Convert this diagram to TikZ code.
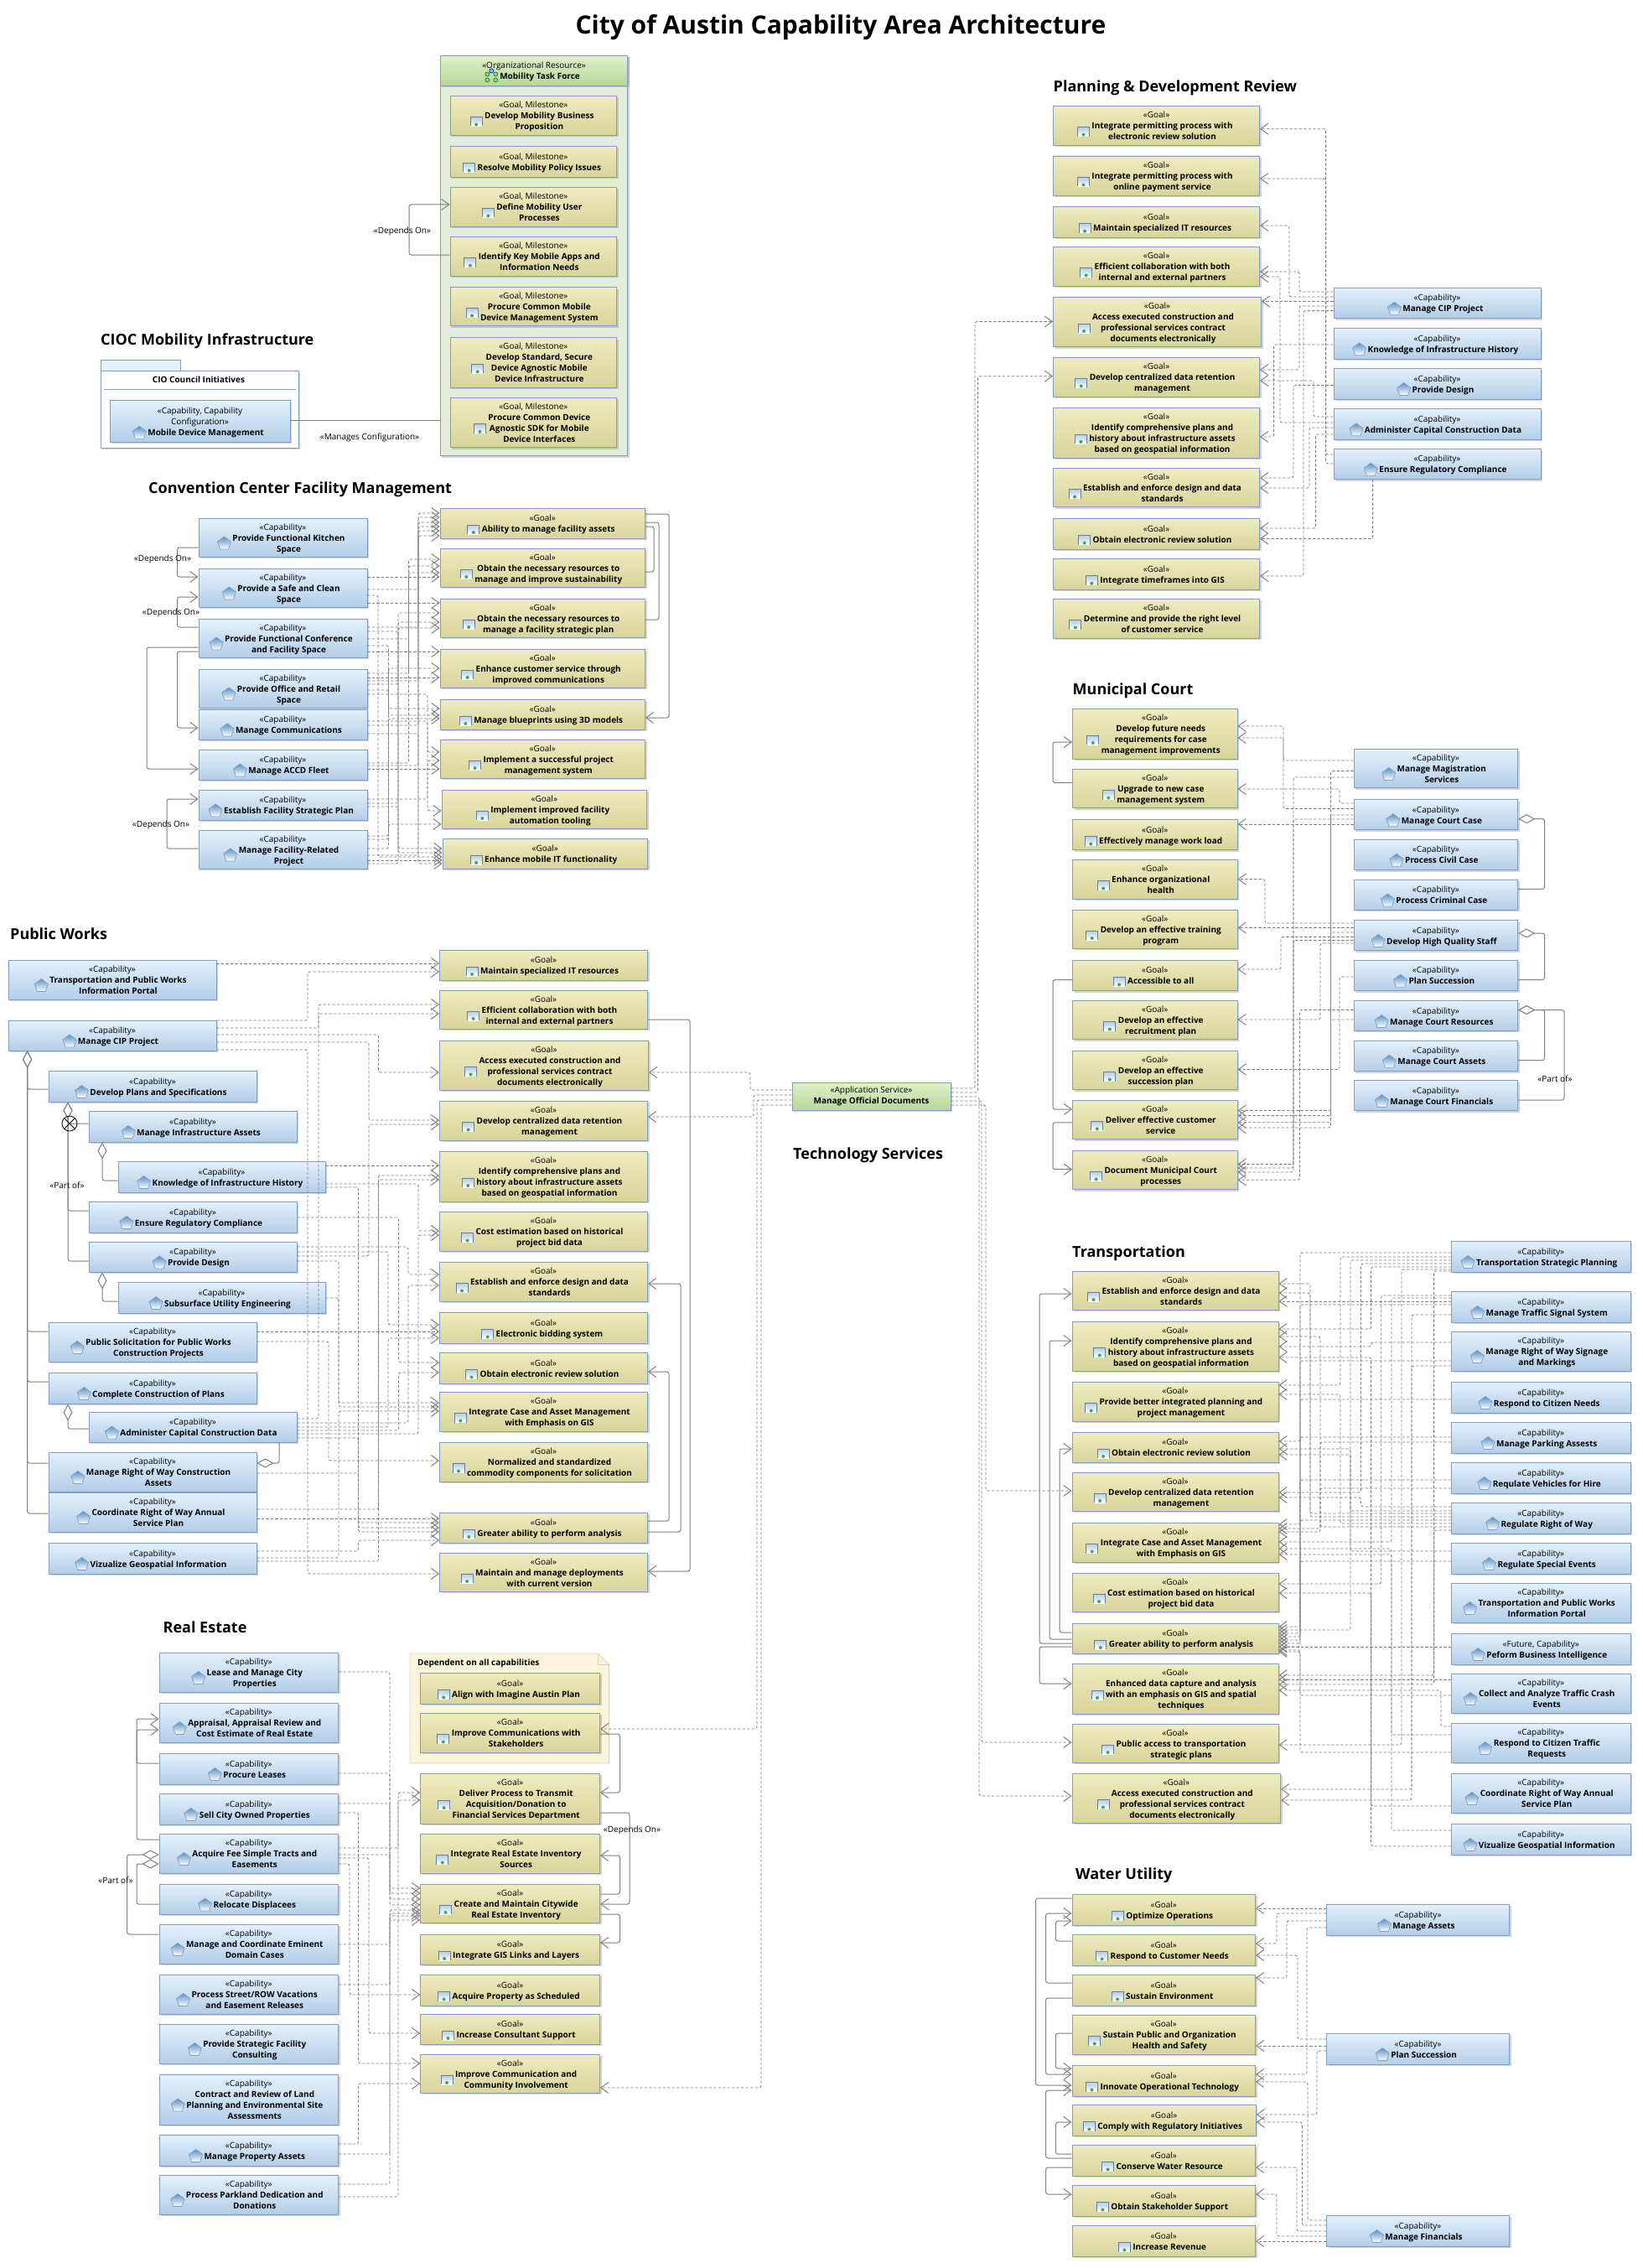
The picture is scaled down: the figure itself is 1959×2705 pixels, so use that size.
\documentclass[tikz,border=0pt]{standalone}
\usepackage{fontspec}
\setmainfont{Open Sans}
\usetikzlibrary{%
  arrows.meta,%
  shapes.geometric,%
  shadows%
}
\definecolor{capTop}{HTML}{E4F1FD}
\definecolor{capBottom}{HTML}{B2CEE8}
\definecolor{capIcon}{HTML}{5C93C4}
\definecolor{goalTop}{HTML}{EFECC0}
\definecolor{goalBottom}{HTML}{D8D49A}
\definecolor{svcTop}{HTML}{DFF0CC}
\definecolor{svcBottom}{HTML}{B6D797}
\definecolor{boxEdge}{HTML}{7F9FC6}
\definecolor{lineGray}{HTML}{808080}
\definecolor{noteFill}{HTML}{FAF5DA}
\definecolor{teamFill}{HTML}{E3EDDA}

\newcommand{\labelfont}{\fontsize{10}{13}\selectfont}
\newsavebox{\boldlines}
\newcommand{\stereoshift}{7}
% style, icon, stereotype, name, x0, y0, x1, y1, bold lines
\newcommand{\boxnode}[9]{%
  \sbox{\boldlines}{\pgfinterruptpicture\normalfont\labelfont\bfseries\begin{tabular}[t]{@{}c@{}}#9\end{tabular}\endpgfinterruptpicture}%
  \pgfmathsetmacro{\cx}{(#5+#7)/2}\pgfmathsetmacro{\cy}{(#6+#8)/2}%
  \pgfmathsetmacro{\bw}{#7-#5}\pgfmathsetmacro{\bh}{#8-#6}%
  \pgfmathsetmacro{\ix}{\cx+7-\the\wd\boldlines/2-10}%
  \pgfmathsetmacro{\iy}{\cy+\stereoshift}%
  \node (#4) [#1,minimum width=\bw pt,minimum height=\bh pt] at (\cx,\cy) {\rule{0pt}{12pt}#3\\\hspace*{14pt}\usebox{\boldlines}};%
  \pic at (\ix,\iy) {#2};}
\newcommand{\capnode}[7][«Capability»]{\boxnode{capability}{capicon}{#1}{#2}{#3}{#4}{#5}{#6}{#7}}
\newcommand{\goalnode}[7][«Goal»]{\boxnode{goal}{goalicon}{#1}{#2}{#3}{#4}{#5}{#6}{#7}}
% connectors: from/y/vertical x/to/y
\newcommand{\links}[2]{\foreach \src/\ya/\xv/\dst/\yb in {#2}{%
  \ifdim\ya pt=\yb pt \draw[#1] (\src |- 0,\ya) -- (\dst |- 0,\yb);
  \else \draw[#1] (\src |- 0,\ya) -- (\xv,\ya) -- (\xv,\yb) -- (\dst |- 0,\yb);
  \fi}}
\newcommand{\capsEast}[2]{\foreach \src/\ya/\xv/\dst/\yb in {#2}{%
  \ifdim\ya pt=\yb pt \draw[depends] (#1Cap\src.east |- 0,\ya) -- (#1Goal\dst.west |- 0,\yb);
  \else \draw[depends] (#1Cap\src.east |- 0,\ya) -- (\xv,\ya) -- (\xv,\yb) -- (#1Goal\dst.west |- 0,\yb);
  \fi}}
\newcommand{\capsWest}[2]{\foreach \src/\ya/\xv/\dst/\yb in {#2}{%
  \ifdim\ya pt=\yb pt \draw[depends] (#1Cap\src.west |- 0,\ya) -- (#1Goal\dst.east |- 0,\yb);
  \else \draw[depends] (#1Cap\src.west |- 0,\ya) -- (\xv,\ya) -- (\xv,\yb) -- (#1Goal\dst.east |- 0,\yb);
  \fi}}

\begin{document}
\begin{tikzpicture}[x=1pt,y=-1pt,
	capability/.style={
	rectangle,draw=boxEdge,line width=0.9pt,
	top color=capTop,bottom color=capBottom,
	drop shadow={shadow xshift=2pt,shadow yshift=-2pt,opacity=.35},
	align=center,inner sep=0pt,font=\labelfont
	},goal/.style={
	capability,top color=goalTop,bottom color=goalBottom
	},service/.style={
	capability,top color=svcTop,bottom color=svcBottom
	},teamhead/.style={
	capability,top color=svcTop,bottom color=svcBottom
	},container/.style={
	rectangle,draw=boxEdge,line width=0.9pt,fill=teamFill,
	drop shadow={shadow xshift=2pt,shadow yshift=-2pt,opacity=.35}
	},pkg/.style={
	rectangle,draw=boxEdge,line width=0.9pt,fill=white,anchor=north west,
	drop shadow={shadow xshift=2pt,shadow yshift=-2pt,opacity=.35}
	},pkgtab/.style={
	rectangle,draw=boxEdge,line width=0.9pt,fill=capTop,anchor=north west
	},stereo/.style={
	font=\labelfont,inner sep=0pt
	},areaTitle/.style={
	anchor=west,inner sep=0pt,font=\bfseries\fontsize{18}{20}\selectfont
	},plainLink/.style={
	draw=lineGray,line width=1pt,rounded corners=2.5pt
	},dependsOn/.style={
	plainLink,-{Straight Barb[length=9pt,width=13pt,line width=1pt]}
	},depends/.style={
	dependsOn,line width=0.8pt,dash pattern=on 3.5pt off 2pt
	},partOf/.style={
	plainLink,{Diamond[fill=white,length=20pt,width=11pt,line width=1pt]}-
	},capicon/.pic={
	\shade[top color=capIcon,bottom color=white,draw=boxEdge,line width=0.7pt]
	  (0,-8) -- (8,-2) -- (5,7) -- (-5,7) -- (-8,-2) -- cycle;
	},goalicon/.pic={
	\shade[top color=capBottom,bottom color=white] (-7,-5) rectangle (7,6);
	\draw[draw=boxEdge!80!black,line width=0.8pt] (-7,6) -- (-7,-5) -- (7,-5) -- (7,6);
	\fill[green!50!black!70] (0,4) circle (2);
	},orgicon/.pic={
	\draw[draw=green!50!black,fill=green!40!gray!60,line width=0.6pt] (-5,-3) circle (2.5) (5,-3) circle (2.5) (-5,4) circle (2.5) (5,4) circle (2.5);
	\draw[draw=blue!60!black,fill=cyan!50,line width=0.6pt] (0,-7) circle (2.5);
	}
]
\useasboundingbox (0,0) rectangle (1959,2705);

\node (mainTitle) [inner sep=0pt,font=\bfseries\fontsize{30}{34}\selectfont] at (1003,33) {City of Austin Capability Area Architecture};

% Mobility task force
\node (taskForce) [container,minimum width=223.3,minimum height=477.2] at (637,305) {};
\boxnode{teamhead}{orgicon}{«Organizational Resource»}{taskHead}{525.4}{66.4}{748.7}{102.5}{Mobility Task Force}
\goalnode[«Goal, Milestone»]{tfGoal1}{537}{114}{735.7}{161}{Develop Mobility Business\\Proposition}
\goalnode[«Goal, Milestone»]{tfGoal2}{537}{174}{735.7}{211}{Resolve Mobility Policy Issues}
\goalnode[«Goal, Milestone»]{tfGoal3}{537}{223}{735.7}{270}{Define Mobility User\\Processes}
\goalnode[«Goal, Milestone»]{tfGoal4}{537}{282.5}{735.7}{329}{Identify Key Mobile Apps and\\Information Needs}
\goalnode[«Goal, Milestone»]{tfGoal5}{537}{342.5}{735.7}{388.6}{Procure Common Mobile\\Device Management System}
\goalnode[«Goal, Milestone»]{tfGoal6}{537}{402.5}{735.7}{462}{Develop Standard, Secure\\Device Agnostic Mobile\\Device Infrastructure}
\goalnode[«Goal, Milestone»]{tfGoal7}{537}{474}{735.7}{533.6}{Procure Common Device\\Agnostic SDK for Mobile\\Device Interfaces}
\links{dependsOn}{tfGoal4.west/304/488/tfGoal3.west/244}
\node (tfLabel) [stereo] at (480,276) {«Depends On»};

% CIOC
\node (ciocTitle) [areaTitle] at (120,407) {CIOC Mobility Infrastructure};
\node (ciocTab) [pkgtab,minimum width=95,minimum height=12.5] at (120,429) {};
\node (ciocPkg) [pkg,minimum width=236,minimum height=92.5] at (120,441.5) {};
\node (ciocName) [stereo,font=\labelfont\bfseries] at (237,453) {CIO Council Initiatives};
\draw[draw=boxEdge,line width=0.8pt] ([xshift=4pt]ciocPkg.west |- 0,464) -- ([xshift=-4pt]ciocPkg.east |- 0,464);
\renewcommand{\stereoshift}{14}
\capnode[«Capability, Capability\\Configuration»]{ciocCap1}{131}{477.5}{346}{527}{Mobile Device Management}
\renewcommand{\stereoshift}{7}
\links{plainLink}{ciocCap1.east/501.4/400/taskForce.west/501.4}
\node (ciocLabel) [stereo] at (441,522) {«Manages Configuration»};

% Convention Center
\node (ccTitle) [areaTitle] at (177,584) {Convention Center Facility Management};
\capnode{ccCap1}{237}{618}{438}{664}{Provide Functional Kitchen\\Space}
\capnode{ccCap2}{237}{678}{438}{724}{Provide a Safe and Clean\\Space}
\capnode{ccCap3}{237}{738}{438}{784}{Provide Functional Conference\\and Facility Space}
\capnode{ccCap4}{237}{798}{438}{844}{Provide Office and Retail\\Space}
\capnode{ccCap5}{237}{846}{438}{882}{Manage Communications}
\capnode{ccCap6}{237}{894}{438}{930}{Manage ACCD Fleet}
\capnode{ccCap7}{237}{942}{438}{978}{Establish Facility Strategic Plan}
\capnode{ccCap8}{237}{990}{438}{1036}{Manage Facility-Related\\Project}
\goalnode{ccGoal1}{525}{606}{769.5}{642}{Ability to manage facility assets}
\goalnode{ccGoal2}{525}{654}{769.5}{700}{Obtain the necessary resources to\\manage and improve sustainability}
\goalnode{ccGoal3}{525}{714}{769.5}{760}{Obtain the necessary resources to\\manage a facility strategic plan}
\goalnode{ccGoal4}{525}{774}{769.5}{820}{Enhance customer service through\\improved communications}
\goalnode{ccGoal5}{525}{834}{769.5}{870}{Manage blueprints using 3D models}
\goalnode{ccGoal6}{525}{882}{769.5}{928}{Implement a successful project\\management system}
\goalnode{ccGoal7}{527}{942}{771.6}{988}{Implement improved facility\\automation tooling}
\goalnode{ccGoal8}{528}{1000}{772.5}{1036}{Enhance mobile IT functionality}
\links{dependsOn}{ccCap1.west/653/211.5/ccCap2.west/688,ccCap3.west/748/211.5/ccCap2.west/712,%
  ccCap3.west/772/175/ccCap6.west/917,ccCap3.west/777/211.5/ccCap5.west/868,%
  ccCap8.west/1012/199/ccCap7.west/953,ccGoal1.east/613/798/ccGoal5.east/856}
\links{plainLink}{ccGoal3.east/739/786/ccGoal1.east/623,ccGoal2.east/682/780/ccGoal1.east/628}
\capsEast{cc}{2/703/499/1/612,5/865/499/1/617,6/913/499/1/623,3/748/499/1/628,4/812/499/1/633,8/1020/499/1/639,%
  3/762/487.5/2/667,6/910/487.5/2/675,4/803/487.5/2/683,2/688/0/2/688,%
  2/719/0/3/719,4/816/475/3/731,7/958/475/3/742,8/1030/475/3/749,%
  3/777/0/4/777,8/997/463.5/4/797,4/808/0/4/808,%
  3/770/463.5/5/845,4/823/463.5/5/853,8/1001/463.5/5/857,%
  4/828/510/6/897,7/953/510/6/907,6/917/0/6/917,%
  5/860/510/7/967,8/1012/463.5/7/983,%
  2/710/451/8/1022,3/753/475/8/1017,7/962/475/8/1012,8/1026/0/8/1026,5/875/499/8/1030}
\node (ccLabel1) [stereo] at (194,667) {«Depends On»};
\node (ccLabel2) [stereo] at (204,731) {«Depends On»};
\node (ccLabel3) [stereo] at (192,984) {«Depends On»};

% Public Works
\node (pwTitle) [areaTitle] at (12,1114) {Public Works};
\capnode{pwCap1}{10}{1145}{258}{1192}{Transportation and Public Works\\Information Portal}
\capnode{pwCap2}{10}{1217}{258}{1253}{Manage CIP Project}
\capnode{pwCap3}{58}{1277}{306}{1314}{Develop Plans and Specifications}
\capnode{pwCap4}{106}{1325}{354}{1362}{Manage Infrastructure Assets}
\capnode{pwCap5}{141}{1385}{388}{1422}{Knowledge of Infrastructure History}
\capnode{pwCap6}{106}{1433}{354}{1470}{Ensure Regulatory Compliance}
\capnode{pwCap7}{106}{1481}{354}{1517}{Provide Design}
\capnode{pwCap8}{141}{1529}{388}{1566}{Subsurface Utility Engineering}
\capnode{pwCap9}{58}{1577}{306}{1624}{Public Solicitation for Public Works\\Construction Projects}
\capnode{pwCap10}{58}{1637}{306}{1674}{Complete Construction of Plans}
\capnode{pwCap11}{106}{1684}{354}{1720}{Administer Capital Construction Data}
\capnode{pwCap12}{58}{1732}{306}{1779}{Manage Right of Way Construction\\Assets}
\capnode{pwCap13}{58}{1780}{306}{1827}{Coordinate Right of Way Annual\\Service Plan}
\capnode{pwCap14}{58}{1840}{306}{1877}{Vizualize Geospatial Information}
\goalnode{pwGoal1}{524.5}{1133}{772.5}{1169}{Maintain specialized IT resources}
\goalnode{pwGoal2}{524.5}{1181}{772.5}{1227}{Efficient collaboration with both\\internal and external partners}
\goalnode{pwGoal3}{524.5}{1241}{773.5}{1300}{Access executed construction and\\professional services contract\\documents electronically}
\goalnode{pwGoal4}{524.5}{1313}{772.5}{1360}{Develop centralized data retention\\management}
\goalnode{pwGoal5}{524.5}{1373}{772.5}{1433}{Identify comprehensive plans and\\history about infrastructure assets\\based on geospatial information}
\goalnode{pwGoal6}{524.5}{1445}{772.5}{1492}{Cost estimation based on historical\\project bid data}
\goalnode{pwGoal7}{524.5}{1505}{772.5}{1552}{Establish and enforce design and data\\standards}
\goalnode{pwGoal8}{524.5}{1565}{772.5}{1602}{Electronic bidding system}
\goalnode{pwGoal9}{524.5}{1613}{772.5}{1650}{Obtain electronic review solution}
\goalnode{pwGoal10}{524.5}{1660}{772.5}{1707}{Integrate Case and Asset Management\\with Emphasis on GIS}
\goalnode{pwGoal11}{524.5}{1720}{772.5}{1767}{Normalized and standardized\\commodity components for solicitation}
\goalnode{pwGoal12}{524.5}{1804}{772.5}{1840}{Greater ability to perform analysis}
\goalnode{pwGoal13}{524.5}{1852}{772.5}{1898}{Maintain and manage deployments\\with current version}
\foreach \whole/\xv/\member/\ya in {pwCap2/32.6/pwCap3/1299,pwCap2/32.6/pwCap9/1588,pwCap2/32.6/pwCap10/1648,%
  pwCap2/32.6/pwCap12/1745,pwCap2/32.6/pwCap13/1805,pwCap3/81/pwCap4/1340,pwCap3/81/pwCap6/1444,%
  pwCap3/81/pwCap7/1504,pwCap4/122/pwCap5/1408,pwCap7/122/pwCap8/1552,pwCap10/81/pwCap11/1704}{%
  \draw[partOf] (\whole.south -| \xv,0) |- (\member.west |- 0,\ya);}
\draw[partOf] (pwCap12.east |- 0,1745) -| (pwCap11.south -| 333,0);
\node (pwCross) [circle,draw=black,line width=0.8pt,minimum size=18pt,inner sep=0pt] at (83,1340) {};
\draw[black,line width=0.8pt] (pwCross.45) -- (pwCross.225) (pwCross.135) -- (pwCross.315);
\node (pwLabel) [stereo] at (80,1414) {«Part of»};
\links{dependsOn}{pwGoal2.east/1216/823/pwGoal13.east/1874,pwGoal12.east/1814/798/pwGoal9.east/1636,pwGoal12.east/1827/812/pwGoal7.east/1531}
\capsEast{pw}{1/1149/0/1/1149,2/1217/367/1/1159,2/1226/380/2/1209,2/1234/451.5/3/1279,2/1243/440/4/1336,2/1252/367/13/1877,%
  5/1390/0/5/1390,5/1412/499/6/1468,5/1416/427.5/12/1816,6/1452/475.5/9/1625,%
  7/1487/487/7/1520,7/1493/463/8/1580,7/1498/440/4/1341,7/1504/404/10/1673,%
  8/1548/404/10/1678,9/1588/0/8/1588,9/1600/392/11/1742,%
  11/1692/380/2/1198,11/1697/487/7/1533,11/1702/463/8/1596,11/1706/475.5/9/1637,11/1710/499/6/1473,11/1715/427.5/12/1822,%
  12/1757/427.5/12/1827,13/1800/451.5/5/1402,13/1811/0/12/1811,%
  14/1850/427.5/12/1837,14/1858/404/10/1683,14/1862/451.5/5/1407}

% Real Estate
\node (reTitle) [areaTitle] at (194.5,1941) {Real Estate};
\capnode{reCap1}{190}{1971}{403.6}{2018}{Lease and Manage City\\Properties}
\capnode{reCap2}{190}{2031}{403.6}{2078}{Appraisal, Appraisal Review and\\Cost Estimate of Real Estate}
\capnode{reCap3}{190}{2091}{403.6}{2128}{Procure Leases}
\capnode{reCap4}{190}{2139}{403.6}{2176}{Sell City Owned Properties}
\capnode{reCap5}{190}{2187}{403.6}{2234}{Acquire Fee Simple Tracts and\\Easements}
\capnode{reCap6}{190}{2247}{403.6}{2283}{Relocate Displacees}
\capnode{reCap7}{190}{2295}{403.6}{2342}{Manage and Coordinate Eminent\\Domain Cases}
\capnode{reCap8}{190}{2355}{403.6}{2402}{Process Street/ROW Vacations\\and Easement Releases}
\capnode{reCap9}{190}{2414}{403.6}{2461}{Provide Strategic Facility\\Consulting}
\capnode{reCap10}{190}{2474}{403.6}{2534}{Contract and Review of Land\\Planning and Environmental Site\\Assessments}
\capnode{reCap11}{190}{2546}{403.6}{2583}{Manage Property Assets}
\capnode{reCap12}{190}{2594}{403.6}{2641}{Process Parkland Dedication and\\Donations}
\draw[draw=noteFill!70!gray,fill=noteFill,line width=0.8pt] (489,1972) -- (713,1972) -- (726.6,1985) -- (726.6,2103) -- (489,2103) -- cycle;
\draw[draw=noteFill!70!gray,line width=0.8pt] (713,1972) -- (713,1985) -- (726.6,1985);
\node (reNote) [stereo,anchor=west,font=\labelfont\bfseries] at (498,1984) {Dependent on all capabilities};
\goalnode{reGoal1}{501.7}{1995}{715.6}{2032}{Align with Imagine Austin Plan}
\goalnode{reGoal2}{501.7}{2043}{715.6}{2090}{Improve Communications with\\Stakeholders}
\goalnode{reGoal3}{501.7}{2115}{715.6}{2175}{Deliver Process to Transmit\\Acquisition/Donation to\\Financial Services Department}
\goalnode{reGoal4}{501.7}{2187}{715.6}{2234}{Integrate Real Estate Inventory\\Sources}
\goalnode{reGoal5}{501.7}{2247}{715.6}{2293}{Create and Maintain Citywide\\Real Estate Inventory}
\goalnode{reGoal6}{501.7}{2307}{715.6}{2343}{Integrate GIS Links and Layers}
\goalnode{reGoal7}{501.7}{2355}{715.6}{2392}{Acquire Property as Scheduled}
\goalnode{reGoal8}{501.7}{2402}{715.6}{2438}{Increase Consultant Support}
\goalnode{reGoal9}{501.7}{2450}{715.6}{2496}{Improve Communication and\\Community Involvement}
\links{dependsOn}{reCap3.west/2103/163/reCap2.west/2050,reCap5.west/2194/163/reCap2.west/2063,%
  reGoal2.east/2068/739.5/reGoal3.east/2138,reGoal3.east/2162/751/reGoal5.east/2271,%
  reGoal5.east/2259/739.5/reGoal4.east/2213,reGoal5.east/2283/739.5/reGoal6.east/2317}
\links{partOf}{reCap5.west/2223/163/reCap6.west/2271,reCap5.west/2212/151.5/reCap7.west/2307}
\capsEast{re}{1/1994/465/5/2252,3/2115/465/5/2258,4/2151/465/5/2265,5/2212/465/5/2272,7/2319/465/5/2278,8/2367/465/5/2285,%
  11/2569/465/5/2290,12/2605/465/5/2282,4/2162/427.5/9/2461,5/2204/475/3/2147,12/2620/475/3/2138,%
  5/2216/440/8/2425,5/2223/417/7/2379,11/2557/427.5/9/2485}
\node (reLabel1) [stereo] at (138,2243) {«Part of»};
\node (reLabel2) [stereo] at (754,2183) {«Depends On»};

% Technology Services
\node (svcTitle) [areaTitle] at (946,1377.6) {Technology Services};
\node (svc) [service,minimum width=189,minimum height=33] at (1039.5,1307.5) {«Application Service»\\\textbf{Manage Official Documents}};

% Planning & Development Review
\node (plTitle) [areaTitle] at (1256.5,104.5) {Planning \& Development Review};
\goalnode{plGoal1}{1256.5}{126.4}{1502.6}{173}{Integrate permitting process with\\electronic review solution}
\goalnode{plGoal2}{1256.5}{186}{1502.6}{233}{Integrate permitting process with\\online payment service}
\goalnode{plGoal3}{1256.5}{246.5}{1502.6}{283}{Maintain specialized IT resources}
\goalnode{plGoal4}{1256.5}{294}{1502.6}{341}{Efficient collaboration with both\\internal and external partners}
\goalnode{plGoal5}{1256.5}{354.5}{1504.5}{413.5}{Access executed construction and\\professional services contract\\documents electronically}
\goalnode{plGoal6}{1256.5}{426}{1502.6}{473}{Develop centralized data retention\\management}
\goalnode{plGoal7}{1256.5}{486}{1502.6}{546}{Identify comprehensive plans and\\history about infrastructure assets\\based on geospatial information}
\goalnode{plGoal8}{1256.5}{558.6}{1502.6}{604.5}{Establish and enforce design and data\\standards}
\goalnode{plGoal9}{1256.5}{618}{1502.6}{655}{Obtain electronic review solution}
\goalnode{plGoal10}{1256.5}{666.6}{1502.6}{703}{Integrate timeframes into GIS}
\goalnode{plGoal11}{1256.5}{714}{1502.6}{761}{Determine and provide the right level\\of customer service}
\capnode{plCap1}{1591}{343}{1838}{379.5}{Manage CIP Project}
\capnode{plCap2}{1591}{391.6}{1838}{428}{Knowledge of Infrastructure History}
\capnode{plCap3}{1591}{439}{1838}{476}{Provide Design}
\capnode{plCap4}{1591}{487.6}{1838}{524}{Administer Capital Construction Data}
\capnode{plCap5}{1591}{535}{1838}{571.5}{Ensure Regulatory Compliance}
\capsWest{pl}{1/348/1550/4/324,1/354/1538/3/269,1/359.5/0/5/359.5,1/365/1550/6/441,1/370.6/1555/10/687,%
  2/411/1519.6/7/521,3/459.5/1543/8/570,4/497/1567/6/454,4/504/1527/4/330,4/510/1562/8/582,4/518/1569.6/9/630,%
  5/542/1581.6/1/153.7,5/553/1581.6/2/213}
\draw[depends] (plCap5.south -| 1637.6,0) |- (plGoal9.east |- 0,642.5);

% Municipal Court
\node (mcTitle) [areaTitle] at (1279.5,823.7) {Municipal Court};
\goalnode{mcGoal1}{1279.5}{845}{1476}{905}{Develop future needs\\requirements for case\\management improvements}
\goalnode{mcGoal2}{1279.5}{917.5}{1476}{963.7}{Upgrade to new case\\management system}
\goalnode{mcGoal3}{1279.5}{977.5}{1476}{1013.5}{Effectively manage work load}
\goalnode{mcGoal4}{1279.5}{1025}{1476}{1072}{Enhance organizational\\health}
\goalnode{mcGoal5}{1279.5}{1085}{1476}{1131}{Develop an effective training\\program}
\goalnode{mcGoal6}{1279.5}{1145}{1476}{1181.6}{Accessible to all}
\goalnode{mcGoal7}{1279.5}{1193.5}{1476}{1239.6}{Develop an effective\\recruitment plan}
\goalnode{mcGoal8}{1279.5}{1253.5}{1476}{1299.6}{Develop an effective\\succession plan}
\goalnode{mcGoal9}{1279.5}{1312}{1476}{1358.8}{Deliver effective customer\\service}
\goalnode{mcGoal10}{1279.5}{1372}{1476}{1418.8}{Document Municipal Court\\processes}
\capnode{mcCap1}{1615}{893.5}{1810.7}{939.6}{Manage Magistration\\Services}
\capnode{mcCap2}{1615}{953.5}{1810.7}{989.8}{Manage Court Case}
\capnode{mcCap3}{1615}{1001}{1810.7}{1037.5}{Process Civil Case}
\capnode{mcCap4}{1615}{1049}{1810.7}{1085}{Process Criminal Case}
\capnode{mcCap5}{1615}{1097.5}{1810.7}{1133.5}{Develop High Quality Staff}
\capnode{mcCap6}{1615}{1145}{1810.7}{1181.6}{Plan Succession}
\capnode{mcCap7}{1615}{1193.5}{1810.7}{1229.4}{Manage Court Resources}
\capnode{mcCap8}{1615}{1241}{1810.7}{1277.6}{Manage Court Assets}
\capnode{mcCap9}{1615}{1288.6}{1810.7}{1324.5}{Manage Court Financials}
\links{dependsOn}{mcGoal2.west/933.5/1256/mcGoal1.west/885,mcGoal6.west/1168.6/1256/mcGoal9.west/1323,mcGoal9.west/1338.8/1256/mcGoal10.west/1394.7}
\links{partOf}{mcCap2.east/976.7/1842.6/mcCap4.east/1060.4,mcCap5.east/1113/1842.6/mcCap6.east/1168.6,%
  mcCap7.east/1204.5/1842.6/mcCap8.east/1264.5,mcCap7.east/1204.5/1866/mcCap9.east/1312}
\capsWest{mc}{1/907/1531/1/880,1/919.6/1587.5/9/1324.5,1/927/1543/10/1388.6,2/958/1598/2/941,2/964.5/1531/1/866,%
  2/972/1587.5/9/1330.6,2/977/1543/10/1393,2/983/0/3/983,5/1101/1509/4/1048.6,5/1106.5/0/5/1106.5,%
  5/1112/1587.5/9/1338.8,5/1117.5/1528/6/1156,5/1121.6/1543/10/1398,5/1125/1575/7/1216,%
  6/1165/1598/8/1275.5,7/1204.5/1550.5/10/1407.3,7/1216/1587.5/9/1345}
\node (mcLabel) [stereo] at (1855,1287) {«Part of»};

% Transportation
\node (trTitle) [areaTitle] at (1279,1495) {Transportation};
\goalnode{trGoal1}{1279}{1516}{1525}{1562}{Establish and enforce design and data\\standards}
\goalnode{trGoal2}{1279}{1576}{1525}{1635}{Identify comprehensive plans and\\history about infrastructure assets\\based on geospatial information}
\goalnode{trGoal3}{1279}{1648}{1525}{1695}{Provide better integrated planning and\\project management}
\goalnode{trGoal4}{1279}{1708}{1525}{1744}{Obtain electronic review solution}
\goalnode{trGoal5}{1279}{1756}{1525}{1802}{Develop centralized data retention\\management}
\goalnode{trGoal6}{1279}{1816}{1525}{1863}{Integrate Case and Asset Management\\with Emphasis on GIS}
\goalnode{trGoal7}{1279}{1876}{1525}{1922}{Cost estimation based on historical\\project bid data}
\goalnode{trGoal8}{1279}{1936}{1525}{1972}{Greater ability to perform analysis}
\goalnode{trGoal9}{1279}{1984}{1525}{2044}{Enhanced data capture and analysis\\with an emphasis on GIS and spatial\\techniques}
\goalnode{trGoal10}{1279}{2056}{1525}{2102}{Public access to transportation\\strategic plans}
\goalnode{trGoal11}{1279}{2115}{1527.7}{2174}{Access executed construction and\\professional services contract\\documents electronically}
\capnode{trCap1}{1731.5}{1480}{1945}{1517}{Transportation Strategic Planning}
\capnode{trCap2}{1731.5}{1540}{1945}{1577}{Manage Traffic Signal System}
\capnode{trCap3}{1731.5}{1588}{1945}{1635}{Manage Right of Way Signage\\and Markings}
\capnode{trCap4}{1731.5}{1648}{1945}{1685}{Respond to Citizen Needs}
\capnode{trCap5}{1731.5}{1696}{1945}{1733}{Manage Parking Assests}
\capnode{trCap6}{1731.5}{1744}{1945}{1781}{Requlate Vehicles for Hire}
\capnode{trCap7}{1731.5}{1792}{1945}{1829}{Regulate Right of Way}
\capnode{trCap8}{1731.5}{1840}{1945}{1877}{Regulate Special Events}
\capnode{trCap9}{1731.5}{1888}{1945}{1935}{Transportation and Public Works\\Information Portal}
\capnode[«Future, Capability»]{trCap10}{1731.5}{1948}{1945}{1985}{Peform Business Intelligence}
\capnode{trCap11}{1731.5}{1996}{1945}{2043}{Collect and Analyze Traffic Crash\\Events}
\capnode{trCap12}{1731.5}{2055}{1945}{2102}{Respond to Citizen Traffic\\Requests}
\capnode{trCap13}{1731.5}{2115}{1945}{2162}{Coordinate Right of Way Annual\\Service Plan}
\capnode{trCap14}{1731.5}{2175}{1945}{2212}{Vizualize Geospatial Information}
\links{dependsOn}{trGoal8.west/1947/1264/trGoal4.west/1728,trGoal8.west/1955/1252/trGoal2.west/1599,%
  trGoal8.west/1960/1240/trGoal1.west/1543,trGoal8.west/1964/1240/trGoal9.west/2008}
\capsWest{tr}{1/1494/1551/8/1940,1/1499/1599/3/1652,1/1503/1611/8/1944,1/1507/1623.5/5/1780,1/1511/1635.6/2/1585,1/1514/1672/10/2081,1/1516/1710.6/9/1998,%
  2/1545/1647.7/7/1889,2/1548/1660/6/1839,2/1552/0/1/1552,2/1556/1551/8/1948,2/1568/1684/11/2134,%
  3/1601/1635.6/2/1606,3/1623/1551/8/1952,3/1629/1684/11/2147,4/1669/1551/8/1956,5/1714/1551/4/1719,%
  5/1720/1575/6/1823,6/1765/1551/8/1960,6/1775/1575/6/1827,%
  7/1797/1623.5/5/1786,7/1802/1611/4/1735,7/1805/1563/1/1542,7/1809/1563/1/1531,7/1813/1551/6/1818,7/1817/1599/3/1663,7/1821/1575/2/1594,7/1825/1710.6/9/2009,%
  8/1850/1611/4/1728,8/1862/1551/8/1964,10/1964/0/8/1964,%
  11/2003/0/9/2003,11/2022/1551/8/1968,12/2059/1719/9/2016,12/2069/1660/6/1854,12/2090/1551/8/1970,%
  13/2154/1635.6/2/1619,14/2183/1660/6/1847,14/2202/1635.6/7/1900}

% Water Utility
\node (wuTitle) [areaTitle] at (1283,2237) {Water Utility};
\goalnode{wuGoal1}{1279}{2259}{1497.5}{2296}{Optimize Operations}
\goalnode{wuGoal2}{1279}{2307}{1497.5}{2344}{Respond to Customer Needs}
\goalnode{wuGoal3}{1279}{2355}{1497.5}{2392}{Sustain Environment}
\goalnode{wuGoal4}{1279}{2403}{1497.5}{2450}{Sustain Public and Organization\\Health and Safety}
\goalnode{wuGoal5}{1279}{2463}{1497.5}{2500}{Innovate Operational Technology}
\goalnode{wuGoal6}{1279}{2510}{1498.3}{2547}{Comply with Regulatory Initiatives}
\goalnode{wuGoal7}{1279}{2558}{1497.5}{2595}{Conserve Water Resource}
\goalnode{wuGoal8}{1279}{2606}{1497.5}{2643}{Obtain Stakeholder Support}
\goalnode{wuGoal9}{1279}{2654}{1497.5}{2691}{Increase Revenue}
\capnode{wuCap1}{1582.5}{2271}{1800.6}{2308}{Manage Assets}
\capnode{wuCap2}{1582.5}{2425}{1800.6}{2462}{Plan Succession}
\capnode{wuCap3}{1582.5}{2642}{1800.6}{2679}{Manage Financials}
\links{dependsOn}{wuGoal1.west/2264/1235.6/wuGoal5.west/2487,wuGoal2.west/2315/1259.4/wuGoal1.west/2291,%
  wuGoal3.west/2365/1247.7/wuGoal1.west/2282,wuGoal3.west/2383/1247.7/wuGoal5.west/2474,%
  wuGoal4.west/2425/1259.4/wuGoal5.west/2467,wuGoal7.west/2574/1247.7/wuGoal5.west/2493,%
  wuGoal7.west/2569/1259.4/wuGoal6.west/2531,wuGoal7.west/2585/1247.7/wuGoal8.west/2617}
\capsWest{wu}{1/2276/0/1/2276,1/2282/1523/2/2318,1/2291/1535/3/2359,1/2299/1559/5/2474,%
  2/2432/1548/2/2332,2/2440/0/4/2440,2/2446/1571/6/2522,%
  3/2648/1560/5/2483,3/2654/1553.4/6/2531,3/2661/1547/7/2585,3/2667/1523/8/2617,3/2673/0/9/2673}

% Application service
\links{depends}{svc.west/1300/895/pwGoal3.east/1279,svc.west/1306/899/pwGoal4.east/1332,%
  svc.west/1312/903/reGoal2.east/2062,svc.west/1318/908/reGoal9.east/2490,%
  svc.east/1298/1163/plGoal5.west/383.6,svc.east/1303/1166.5/plGoal6.west/448.7,%
  svc.east/1308/1168/trGoal11.west/2142,svc.east/1313/1171/trGoal10.west/2078,svc.east/1318/1176/trGoal5.west/1778}
\end{tikzpicture}
\end{document}
